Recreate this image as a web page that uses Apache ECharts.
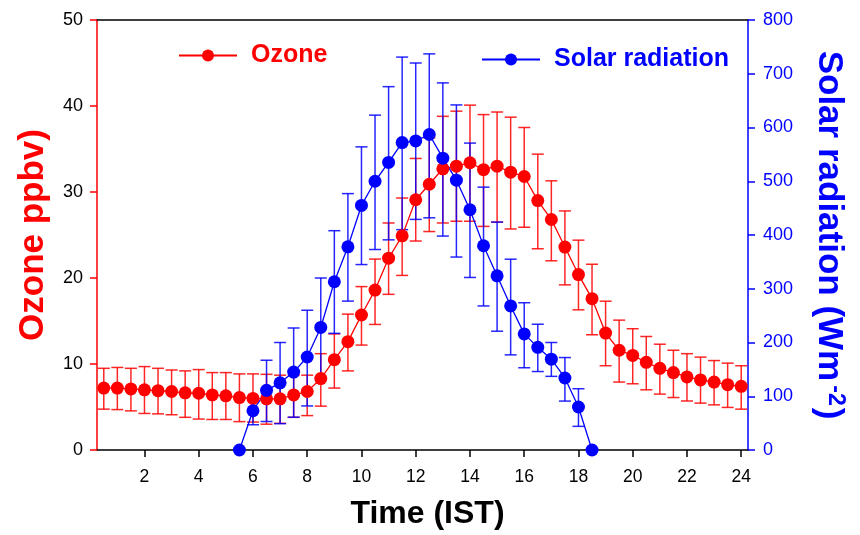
<!DOCTYPE html>
<html>
<head>
<meta charset="utf-8">
<script src="https://cdn.jsdelivr.net/npm/echarts@6/dist/echarts.min.js"></script>
<style>
html,body{margin:0;padding:0;background:#fff;}
#chart{width:860px;height:535px;}
</style>
</head>
<body>
<div id="chart"></div>
<script>
// ---- Data ----
const ozoneHours = [0.5,1,1.5,2,2.5,3,3.5,4,4.5,5,5.5,6,6.5,7,7.5,8,8.5,9,9.5,10,10.5,11,11.5,12,
  12.5,13,13.5,14,14.5,15,15.5,16,16.5,17,17.5,18,18.5,19,19.5,20,20.5,21,21.5,22,22.5,23,23.5,24];
const ozoneMean = [7.2,7.2,7.1,7.0,6.9,6.8,6.65,6.6,6.4,6.3,6.1,6.0,5.95,5.95,6.4,6.8,8.3,10.5,12.6,15.7,18.6,22.3,24.9,29.1,
  30.9,32.7,33.0,33.4,32.6,33.0,32.3,31.8,29.0,26.8,23.6,20.4,17.6,13.6,11.6,11.0,10.2,9.5,9.0,8.5,8.15,7.9,7.6,7.4];
const ozoneUpper = [9.5,9.6,9.5,9.7,9.5,9.3,9.2,9.35,9.0,9.0,8.85,8.85,8.8,8.7,8.7,8.7,11.2,13.5,15.8,19.0,22.2,26.4,29.3,33.9,
  36.3,38.8,39.4,40.1,39.0,39.3,38.7,37.5,34.4,31.3,27.8,24.4,21.6,17.3,15.1,14.1,13.2,12.3,11.6,11.2,10.8,10.4,10.1,9.8];
const ozoneLower = [4.75,4.7,4.55,4.25,4.2,4.1,3.8,3.6,3.55,3.55,3.3,3.25,3.0,3.1,3.8,4.0,5.1,7.2,9.2,12.2,14.6,18.1,20.3,24.3,
  25.4,26.4,26.6,26.6,26.0,26.5,25.7,25.9,23.4,22.0,19.2,16.3,13.4,9.8,7.9,7.7,7.0,6.5,6.1,5.7,5.45,5.25,4.95,4.75];

const solarHours = [5.5,6,6.5,7,7.5,8,8.5,9,9.5,10,10.5,11,11.5,12,12.5,13,13.5,14,14.5,15,15.5,16,16.5,17,17.5,18,18.5];
const solarMean  = [0,73,111,125,145,173,228,313,378,455,500,535,572,575,587,543,502,447,380,324,268,216,191,169,134,80,0];
const solarUpper = [0,98,167,200,227,260,320,408,477,564,623,676,731,720,737,683,642,571,489,424,355,274,234,200,172,114,0];
const solarLower = [0,47,53,49,61,82,134,217,277,345,373,391,410,429,432,398,359,321,268,221,177,153,146,137,91,44,0];

const xTicks = [2,4,6,8,10,12,14,16,18,20,22,24];
const seriesNames = ['Ozone','Solar radiation'];

// ---- Build ----
const FONT = '"Liberation Sans", Arial, sans-serif';
const RED = '#ff0000', BLUE = '#0000ff';

function zip2(a,b){ return a.map((v,i)=>[v,b[i]]); }
function zip3(a,b,c){ return a.map((v,i)=>[v,b[i],c[i]]); }

function errRender(color){
  return function(params, api){
    const x = api.value(0), lo = api.value(1), hi = api.value(2);
    if (hi === lo) return null;
    const a = api.coord([x, lo]), b = api.coord([x, hi]);
    const hw = 6;
    const st = {stroke: color, lineWidth: 1.5, opacity: 0.85};
    return {type:'group', children:[
      {type:'line', shape:{x1:a[0],y1:a[1],x2:b[0],y2:b[1]}, style:st},
      {type:'line', shape:{x1:a[0]-hw,y1:a[1],x2:a[0]+hw,y2:a[1]}, style:st},
      {type:'line', shape:{x1:b[0]-hw,y1:b[1],x2:b[0]+hw,y2:b[1]}, style:st}
    ]};
  };
}

const chart = echarts.init(document.getElementById('chart'), null, {renderer:'canvas'});
chart.setOption({
  animation: false,
  backgroundColor: '#fff',
  textStyle: {fontFamily: FONT},
  grid: {left: 97, right: 112, top: 20, bottom: 83, containLabel: false},
  legend: [
    {data:[seriesNames[0]], left:173, top:38, itemWidth:58, itemHeight:15,
     textStyle:{color:RED, fontSize:25, fontWeight:'bold', fontFamily:FONT, padding:[0,0,0,9]}},
    {data:[seriesNames[1]], left:476, top:42, itemWidth:58, itemHeight:15,
     textStyle:{color:BLUE, fontSize:25, fontWeight:'bold', fontFamily:FONT, padding:[0,0,0,9]}}
  ],
  xAxis: [
    {type:'value', position:'bottom', min:0.25, max:24.25,
     name:'Time (IST)', nameLocation:'middle', nameGap:48,
     nameTextStyle:{color:'#000', fontSize:32, fontWeight:'bold', fontFamily:FONT, padding:[0,0,0,10]},
     axisLine:{show:true, onZero:false, lineStyle:{color:'#000', width:1.5}},
     axisTick:{show:true, inside:false, length:7, lineStyle:{color:'#000', width:1.5}, customValues: xTicks},
     axisLabel:{color:'#000', fontSize:17.5, margin:18, fontFamily:FONT, customValues: xTicks},
     splitLine:{show:false}},
    {type:'value', position:'top', min:0.25, max:24.25,
     axisLine:{show:true, onZero:false, lineStyle:{color:'#000', width:1.5}},
     axisTick:{show:false}, axisLabel:{show:false}, splitLine:{show:false}}
  ],
  yAxis: [
    {type:'value', position:'left', min:0, max:50, interval:10,
     name:'Ozone ppbv)', nameLocation:'middle', nameGap:46,
     nameTextStyle:{color:RED, fontSize:35, fontWeight:'bold', fontFamily:FONT},
     axisLine:{show:true, onZero:false, lineStyle:{color:RED, width:1.5}},
     axisTick:{show:true, inside:false, length:7, lineStyle:{color:RED, width:1.5}},
     axisLabel:{color:'#000', fontSize:18, margin:14, fontFamily:FONT},
     splitLine:{show:false}},
    {type:'value', position:'right', min:0, max:800, interval:100,
     name:'Solar radiation (Wm{sup|-2})', nameLocation:'middle', nameGap:62, nameRotate:-90,
     nameTextStyle:{color:BLUE, fontSize:35, fontWeight:'bold', fontFamily:FONT,
       rich:{sup:{color:BLUE, fontSize:23, fontWeight:'bold', fontFamily:FONT, verticalAlign:'top', padding:[0,2,14,4]}}},
     axisLine:{show:true, onZero:false, lineStyle:{color:BLUE, width:1.5}},
     axisTick:{show:true, inside:false, length:7, lineStyle:{color:BLUE, width:1.5}},
     axisLabel:{color:BLUE, fontSize:18, margin:15, fontFamily:FONT},
     splitLine:{show:false}}
  ],
  series: [
    {name:'ozoneErr', type:'custom', xAxisIndex:0, yAxisIndex:0,
     renderItem: errRender(RED), data: zip3(ozoneHours, ozoneLower, ozoneUpper),
     encode:{x:0, y:[1,2]}, silent:true},
    {name:seriesNames[0], type:'line', xAxisIndex:0, yAxisIndex:0,
     data: zip2(ozoneHours, ozoneMean), symbol:'circle', symbolSize:13,
     itemStyle:{color:RED}, lineStyle:{color:RED, width:1.3}},
    {name:'solarErr', type:'custom', xAxisIndex:0, yAxisIndex:1,
     renderItem: errRender(BLUE), data: zip3(solarHours, solarLower, solarUpper),
     encode:{x:0, y:[1,2]}, silent:true},
    {name:seriesNames[1], type:'line', xAxisIndex:0, yAxisIndex:1,
     data: zip2(solarHours, solarMean), symbol:'circle', symbolSize:13,
     itemStyle:{color:BLUE}, lineStyle:{color:BLUE, width:1.3}}
  ]
});
</script>
</body>
</html>
